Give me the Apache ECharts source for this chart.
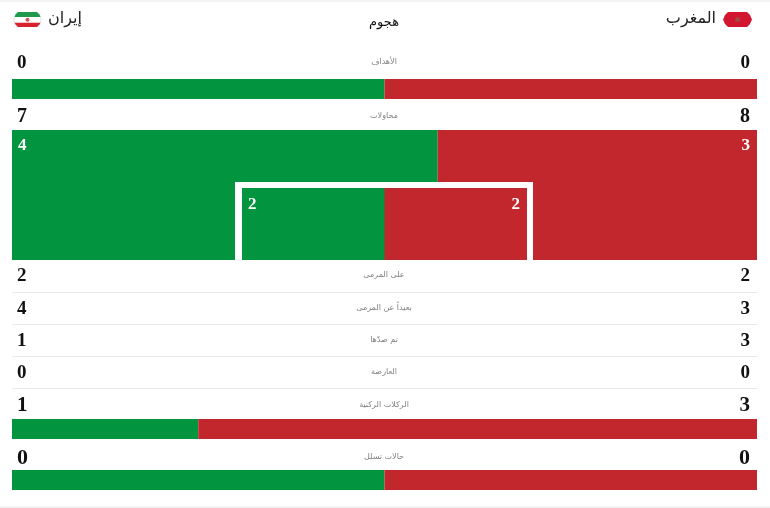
<!DOCTYPE html>
<html>
<head>
<meta charset="utf-8">
<style>html,body{margin:0;padding:0;background:#fff}#chart{width:770px;height:508px}</style>
<script src="https://cdn.jsdelivr.net/npm/echarts@6/dist/echarts.min.js"></script>
</head>
<body>
<div id="chart"></div>
<script>
// Match statistics: attack section, Iran on the left, Morocco on the right
const sectionTitle = 'هجوم';
const teamLeft = 'إيران';
const teamRight = 'المغرب';
const rowNames = ['الأهداف', 'محاولات', 'على المرمى', 'بعيداً عن المرمى', 'تم صدّها', 'العارضة', 'الركلات الركنية', 'حالات تسلل'];
const leftValues = [0, 7, 2, 4, 1, 0, 1, 0];
const rightValues = [0, 8, 2, 3, 3, 0, 3, 0];
const rowY = [62, 116, 275, 308, 340, 372, 405, 457];
const rowSize = [19, 20, 19, 19, 19, 19, 21, 22];
const separatorY = [292, 324, 356, 388];

// Horizontal bars: index into the rows, placement, inner labels
const GREEN = '#02943f', RED = '#c1272d';
const panels = [
  { row: 0, top: 79, height: 20, left: 12, width: 745, labels: false },
  { row: 3, top: 130, height: 130, left: 12, width: 745, labels: true, dy: 2 },
  { row: 2, top: 188, height: 72, left: 242, width: 285, labels: true, box: true, dy: 3 },
  { row: 6, top: 419, height: 20, left: 12, width: 745, labels: false },
  { row: 7, top: 470, height: 20, left: 12, width: 745, labels: false }
];

// A 0-0 row still shows an even split
const share = (a, b) => (a + b === 0 ? [1, 1] : [a, b]);

const grids = [], xAxes = [], yAxes = [], series = [];
panels.forEach((p, i) => {
  const [a, b] = share(leftValues[p.row], rightValues[p.row]);
  grids.push({ left: p.left, top: p.top, width: p.width, height: p.height, z: p.box ? 5 : 2 });
  xAxes.push({ type: 'value', gridIndex: i, min: 0, max: a + b, show: false });
  yAxes.push({ type: 'category', gridIndex: i, data: [rowNames[p.row]], show: false });
  [[a, leftValues[p.row], GREEN, 'insideTopLeft', [1, p.dy || 0]],
   [b, rightValues[p.row], RED, 'insideTopRight', [-2, p.dy || 0]]].forEach(([v, shown, color, pos, off]) => {
    series.push({
      type: 'bar', xAxisIndex: i, yAxisIndex: i, stack: 'p' + i, barWidth: '100%',
      z: p.box ? 6 : 2, silent: true, animation: false,
      itemStyle: { color },
      label: {
        show: p.labels, position: pos, offset: off, formatter: String(shown),
        color: '#fff', fontFamily: 'Liberation Serif', fontWeight: 'bold', fontSize: 17
      },
      data: [v]
    });
  });
});

const text = (x, y, style) => ({ type: 'text', x, y, silent: true, style: Object.assign({ verticalAlign: 'middle' }, style) });
const rect = (x, y, width, height, fill, z) => ({ type: 'rect', z: z || 1, silent: true, shape: { x, y, width, height }, style: { fill } });
const poly = (points, fill) => ({ type: 'polygon', silent: true, shape: { points }, style: { fill } });

const graphic = [
  rect(0, 0, 770, 2, '#f3f3f3'),
  rect(0, 506, 770, 2, '#f3f3f3'),
  text(384, 23, { text: sectionTitle, align: 'center', fill: '#111', fontSize: 13, fontFamily: 'DejaVu Sans' }),
  text(82, 19, { text: teamLeft, align: 'right', fill: '#222', fontSize: 16, fontFamily: 'DejaVu Sans' }),
  text(716, 19, { text: teamRight, align: 'right', fill: '#222', fontSize: 16, fontFamily: 'DejaVu Sans' }),
  // Iran flag
  poly([[13, 19.5], [15, 15], [18, 12], [37, 12], [40, 15], [42, 19.5], [40, 24], [37, 27], [18, 27], [15, 24]], '#ececec'),
  poly([[14.5, 17], [15.5, 14.5], [18, 12], [37, 12], [39.5, 14.5], [40.5, 17]], '#1f9a4d'),
  poly([[14.5, 22.5], [40.5, 22.5], [39.5, 24.5], [37, 27], [18, 27], [15.5, 24.5]], '#d8232f'),
  { type: 'rect', silent: true, shape: { x: 15, y: 17, width: 25, height: 5.5 }, style: { fill: '#fff' } },
  { type: 'circle', silent: true, shape: { cx: 27.5, cy: 19.7, r: 2 }, style: { fill: '#d8505a' } },
  // Morocco flag
  poly([[723, 19.5], [725, 15], [728, 12], [747, 12], [750, 15], [752, 19.5], [750, 24], [747, 27], [728, 27], [725, 24]], '#d3162f'),
  { type: 'circle', silent: true, shape: { cx: 737.5, cy: 19.5, r: 2.5 }, style: { fill: '#a04a40' } }
];

separatorY.forEach(y => graphic.push(rect(12, y, 745, 1, '#e9e9e9')));

// White frame around the on-target block
graphic.push({
  type: 'group', z: 4, children: [
    rect(235, 182, 298, 6, '#fff', 4),
    rect(235, 182, 7, 78, '#fff', 4),
    rect(527, 182, 6, 78, '#fff', 4)
  ]
});

rowNames.forEach((name, i) => {
  const font = { fill: '#111', fontSize: rowSize[i], fontFamily: 'Liberation Serif', fontWeight: 'bold' };
  graphic.push(text(17, rowY[i] + 1, Object.assign({ text: String(leftValues[i]), align: 'left' }, font)));
  graphic.push(text(750, rowY[i] + 1, Object.assign({ text: String(rightValues[i]), align: 'right' }, font)));
  graphic.push(text(384, rowY[i], { text: name, align: 'center', fill: '#808080', fontSize: 8, fontFamily: 'DejaVu Sans' }));
});

const chart = echarts.init(document.getElementById('chart'), null, { renderer: 'canvas' });
chart.setOption({ animation: false, grid: grids, xAxis: xAxes, yAxis: yAxes, series, graphic });
</script>
</body>
</html>
